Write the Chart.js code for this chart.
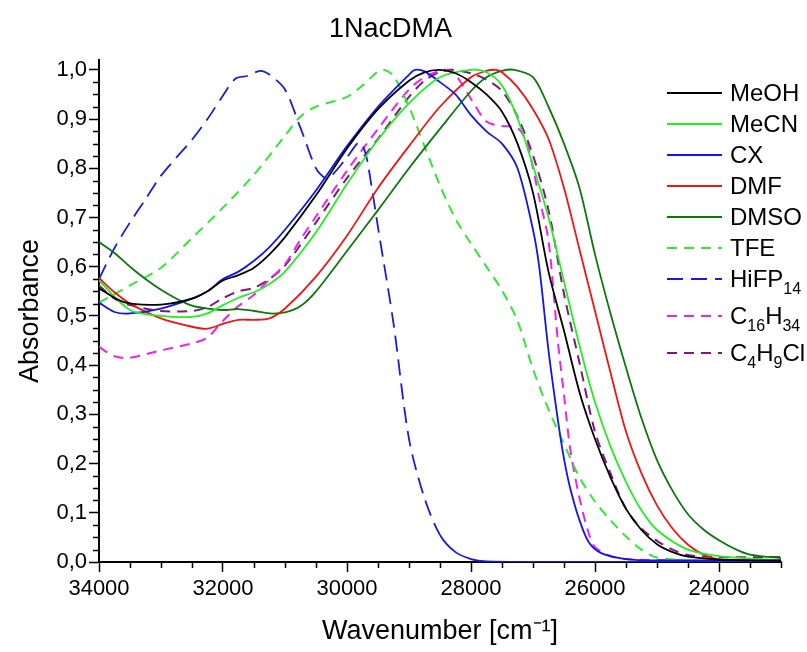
<!DOCTYPE html>
<html><head><meta charset="utf-8">
<script src="https://cdn.jsdelivr.net/npm/chart.js@4.4.0/dist/chart.umd.min.js"></script>
<style>html,body{margin:0;padding:0;background:#fff}#wrap{width:807px;height:652px;position:relative}</style>
</head><body><div id="wrap"><canvas id="c" width="807" height="652"></canvas></div>
<script>
// ---- data (wavenumber in cm-1, normalized absorbance) ----
const meohWn = [34000,33600,33000,32500,32250,32000,31750,31500,31250,31000,30500,30000,29500,29000,28750,28500,28250,28000,27750,27500,27250,27000,26750,26500,26250,26000,25750,25500,25250,25000,24750,24500,24000,23000];
const meohA  = [0.556,0.528,0.523,0.535,0.550,0.572,0.583,0.598,0.625,0.660,0.745,0.840,0.920,0.978,0.995,1.000,0.993,0.975,0.950,0.915,0.850,0.750,0.590,0.470,0.345,0.250,0.172,0.108,0.065,0.036,0.020,0.011,0.005,0.003];

const mecnWn = [34000,33500,33000,32500,32250,32000,31750,31500,31250,31000,30500,30000,29500,29000,28500,28000,27750,27500,27250,27000,26750,26500,26250,26000,25750,25500,25250,25000,24500,24000,23500,23000];
const mecnA  = [0.572,0.512,0.500,0.498,0.505,0.522,0.537,0.548,0.565,0.590,0.670,0.768,0.858,0.932,0.985,1.000,0.995,0.968,0.902,0.805,0.700,0.570,0.440,0.325,0.235,0.163,0.105,0.065,0.025,0.012,0.007,0.004];

const cxWn = [34000,33750,33500,33000,32500,32250,32000,31750,31500,31250,31000,30500,30000,29500,29000,28900,28750,28500,28250,28000,27750,27500,27250,27000,26900,26750,26600,26500,26400,26250,26100,25900,25500,25000,23000];
const cxA  = [0.527,0.508,0.505,0.515,0.535,0.550,0.575,0.590,0.612,0.640,0.675,0.755,0.845,0.925,0.990,1.000,0.997,0.975,0.950,0.908,0.875,0.850,0.800,0.675,0.600,0.430,0.290,0.210,0.150,0.085,0.040,0.018,0.006,0.003,0.002];

const dmfWn = [34000,33750,33500,33000,32500,32250,32000,31750,31500,31250,31000,30500,30000,29500,29000,28500,28000,27750,27600,27500,27250,27000,26750,26500,26250,26000,25750,25500,25250,25000,24750,24500,24250,24000,23000];
const dmfA  = [0.577,0.548,0.525,0.495,0.478,0.474,0.484,0.492,0.492,0.495,0.515,0.580,0.663,0.760,0.845,0.925,0.985,0.998,1.000,0.995,0.965,0.920,0.860,0.760,0.635,0.510,0.385,0.265,0.180,0.115,0.068,0.035,0.015,0.006,0.003];

const dmsoWn = [34000,33750,33500,33250,33000,32750,32500,32250,32000,31750,31500,31250,31000,30750,30500,30000,29500,29000,28500,28000,27750,27500,27300,27000,26750,26500,26250,26000,25750,25500,25250,25000,24750,24500,24250,24000,23750,23500,23000];
const dmsoA  = [0.650,0.628,0.600,0.575,0.553,0.535,0.521,0.515,0.512,0.514,0.510,0.505,0.507,0.520,0.550,0.632,0.715,0.800,0.880,0.957,0.985,0.998,1.000,0.985,0.925,0.850,0.760,0.625,0.505,0.395,0.292,0.207,0.145,0.097,0.066,0.044,0.027,0.015,0.008];

const tfeWn = [34000,33500,33000,32500,32000,31500,31000,30750,30500,30000,29750,29500,29400,29250,29000,28750,28500,28250,28000,27750,27500,27250,27000,26750,26500,26250,26000,25750,25500,25250,25000,24500,23000];
const tfeA  = [0.527,0.562,0.598,0.658,0.720,0.787,0.866,0.905,0.925,0.945,0.968,0.997,1.000,0.988,0.925,0.845,0.765,0.697,0.647,0.600,0.552,0.490,0.392,0.310,0.240,0.172,0.123,0.085,0.052,0.025,0.009,0.004,0.003];

const hifpWn = [34000,33750,33500,33250,33000,32750,32500,32250,32000,31800,31600,31400,31250,31000,30750,30500,30350,30250,30000,29800,29700,29600,29500,29250,29000,28750,28500,28250,28000,27750,27000,23000];
const hifpA  = [0.575,0.638,0.690,0.737,0.785,0.822,0.858,0.900,0.948,0.982,0.988,0.998,0.990,0.960,0.882,0.800,0.780,0.785,0.822,0.853,0.830,0.760,0.680,0.485,0.250,0.130,0.055,0.020,0.006,0.001,0.000,0.000];

const c16Wn = [34000,33750,33500,33000,32500,32250,32000,31750,31500,31250,31000,30750,30500,30000,29500,29000,28750,28500,28400,28250,28000,27750,27500,27250,27100,27000,26900,26750,26600,26500,26400,26250,26100,26000,25750,25500,25000,23000];
const c16A  = [0.437,0.418,0.415,0.430,0.444,0.456,0.490,0.520,0.543,0.574,0.605,0.655,0.702,0.795,0.880,0.960,0.985,0.998,1.000,0.990,0.941,0.895,0.886,0.882,0.852,0.800,0.740,0.653,0.450,0.340,0.230,0.130,0.058,0.030,0.012,0.006,0.004,0.004];

const c4Wn = [34000,33750,33500,33000,32500,32250,32000,31750,31500,31250,31000,30500,30000,29500,29000,28750,28500,28300,28000,27750,27500,27250,27000,26750,26500,26250,26000,25750,25500,25250,25000,24750,24500,24000,23000];
const c4A  = [0.562,0.535,0.522,0.510,0.510,0.518,0.536,0.550,0.557,0.575,0.602,0.690,0.780,0.860,0.945,0.978,0.996,1.000,0.993,0.980,0.957,0.905,0.826,0.715,0.545,0.405,0.265,0.180,0.108,0.068,0.043,0.025,0.014,0.010,0.010];

const seriesLabels = ['MeOH','MeCN','CX','DMF','DMSO','TFE','HiFP₁₄','C₁₆H₃₄','C₄H₉Cl'];
const xTickValues = [34000,32000,30000,28000,26000,24000];
const yTickValues = [0,0.1,0.2,0.3,0.4,0.5,0.6,0.7,0.8,0.9,1.0];
const xMinorStep = 500, yMinorStep = 0.025;
const chartTitle = '1NacDMA';
const xTitle = 'Wavenumber [cm⁻¹]';
const yTitle = 'Absorbance';
// legend text pieces: [text, isSubscript]
const legendParts = [
  [['MeOH',0]], [['MeCN',0]], [['CX',0]], [['DMF',0]], [['DMSO',0]], [['TFE',0]],
  [['HiFP',0],['14',1]],
  [['C',0],['16',1],['H',0],['34',1]],
  [['C',0],['4',1],['H',0],['9',1],['Cl',0]]
];

const FONT = '"Liberation Sans", Arial, Helvetica, sans-serif';
const pts = (w,a) => w.map((x,i)=>({x:x, y:a[i]}));

const styles = [
  {c:'#000000', d:[], w:1.8},
  {c:'#22ee22', d:[], w:1.8},
  {c:'#1414e6', d:[], w:1.8},
  {c:'#f01414', d:[], w:1.8},
  {c:'#0b780b', d:[], w:1.8},
  {c:'#33e833', d:[10,7], w:2},
  {c:'#1a1ae0', d:[16,8], w:1.8},
  {c:'#f020f0', d:[10,7], w:2},
  {c:'#7a1a7a', d:[10,7], w:2}
];
const allData = [pts(meohWn,meohA), pts(mecnWn,mecnA), pts(cxWn,cxA), pts(dmfWn,dmfA), pts(dmsoWn,dmsoA),
  pts(tfeWn,tfeA), pts(hifpWn,hifpA), pts(c16Wn,c16A), pts(c4Wn,c4A)];

const datasets = allData.map((d,i)=>({
  label: seriesLabels[i],
  data: d,
  borderColor: styles[i].c,
  backgroundColor: styles[i].c,
  borderWidth: styles[i].w,
  borderDash: styles[i].d,
  pointRadius: 0,
  fill: false,
  tension: 0.3,
  segment: i===6 ? { borderDash: ctx => (ctx.p0.parsed.x < 28700 ? [] : styles[6].d) } : undefined
}));

const minorTicks = {
  id: 'minorTicks',
  afterDraw(chart) {
    const {ctx, scales:{x, y}, chartArea:a} = chart;
    ctx.save();
    ctx.strokeStyle = '#000';
    ctx.lineWidth = 1.5;
    ctx.beginPath();
    for (let v = 23000; v <= 34000; v += xMinorStep) {
      if (xTickValues.includes(v)) continue;
      const px = Math.round(x.getPixelForValue(v)) + 0.5;
      ctx.moveTo(px, a.bottom); ctx.lineTo(px, a.bottom + 6);
    }
    for (let i = 0; i * yMinorStep <= y.max + 1e-9; i++) {
      const v = i * yMinorStep;
      if (yTickValues.some(t => Math.abs(t - v) < 1e-9)) continue;
      const py = Math.round(y.getPixelForValue(v)) + 0.5;
      ctx.moveTo(a.left, py); ctx.lineTo(a.left - 6, py);
    }
    ctx.stroke();
    ctx.restore();
  }
};

const customLegend = {
  id: 'customLegend',
  afterDraw(chart) {
    const ctx = chart.ctx;
    ctx.save();
    let rowY = 93;
    legendParts.forEach((parts, i) => {
      const ds = chart.data.datasets[i];
      ctx.strokeStyle = ds.borderColor;
      ctx.lineWidth = 2;
      ctx.setLineDash(ds.borderDash || []);
      ctx.beginPath();
      ctx.moveTo(667, rowY); ctx.lineTo(722, rowY);
      ctx.stroke();
      ctx.setLineDash([]);
      let tx = 730;
      ctx.fillStyle = '#000';
      ctx.textAlign = 'left';
      ctx.textBaseline = 'middle';
      let hasSub = false;
      parts.forEach(([t, sub]) => {
        if (sub) { hasSub = true; ctx.font = '16px ' + FONT; ctx.fillText(t, tx, rowY + 11); }
        else { ctx.font = '24px ' + FONT; ctx.fillText(t, tx, rowY + 1); }
        tx += ctx.measureText(t).width;
      });
      rowY += hasSub ? 37 : 31;
    });
    ctx.restore();
  }
};

new Chart(document.getElementById('c'), {
  type: 'line',
  data: { datasets },
  options: {
    responsive: false,
    animation: false,
    layout: { padding: { left: 0, right: 26, top: 0, bottom: 0 } },
    plugins: {
      legend: { display: false },
      tooltip: { enabled: false },
      title: {
        display: true, text: chartTitle, color: '#000',
        font: { family: FONT, size: 27, weight: 'normal', lineHeight: 1.2 },
        padding: { top: 13.8, bottom: 13.8 }
      }
    },
    scales: {
      x: {
        type: 'linear', reverse: true, min: 23000, max: 34000,
        afterBuildTicks: s => { s.ticks = xTickValues.map(v => ({ value: v })); },
        afterFit: s => { s.height = 90; },
        ticks: { autoSkip: false, maxRotation: 0, padding: 4, color: '#000',
          font: { family: FONT, size: 22 }, callback: v => String(v) },
        grid: { drawOnChartArea: false, drawTicks: true, tickLength: 10, tickColor: '#000', tickWidth: 1.5 },
        border: { display: true, color: '#000', width: 2 },
        title: { display: true, text: xTitle, color: '#000',
          font: { family: FONT, size: 27, lineHeight: 1.2 }, padding: { top: 0, bottom: 4 } }
      },
      y: {
        type: 'linear', min: 0, max: 1.02,
        afterBuildTicks: s => { s.ticks = yTickValues.map(v => ({ value: v })); },
        afterFit: s => { s.width = 99; },
        ticks: { autoSkip: false, padding: 2, color: '#000',
          font: { family: FONT, size: 22 }, callback: v => v.toFixed(1).replace('.', ',') },
        grid: { drawOnChartArea: false, drawTicks: true, tickLength: 10, tickColor: '#000', tickWidth: 1.5 },
        border: { display: true, color: '#000', width: 2 },
        title: { display: true, text: yTitle, color: '#000',
          font: { family: FONT, size: 27, lineHeight: 1.2 }, padding: { top: 14, bottom: 0 } }
      }
    }
  },
  plugins: [minorTicks, customLegend]
});
</script></body></html>
